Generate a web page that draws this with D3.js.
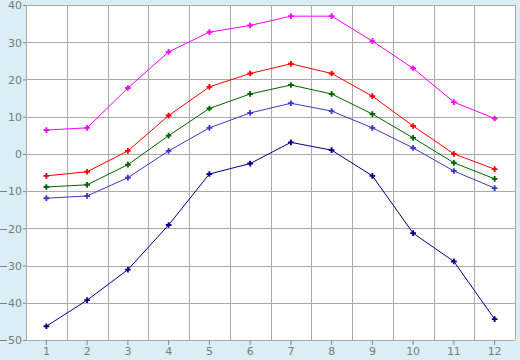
<!DOCTYPE html>
<html>
<head>
<meta charset="utf-8">
<script src="https://cdn.jsdelivr.net/npm/d3@7"></script>
<style>
  html, body { margin: 0; padding: 0; background: #d9eef5; }
  svg text { font-family: "DejaVu Sans", sans-serif; font-size: 11px; fill: #7a7a7a; }
</style>
</head>
<body>
<div id="chart"></div>
<script>
var months = [1, 2, 3, 4, 5, 6, 7, 8, 9, 10, 11, 12];
var yTicks = [-50, -40, -30, -20, -10, 0, 10, 20, 30, 40];

var magentaVals  = [6.4, 7.0, 17.7, 27.4, 32.7, 34.5, 37.0, 37.0, 30.3, 23.0, 13.9, 9.5];
var redVals      = [-5.9, -4.8, 0.8, 10.3, 18.0, 21.6, 24.2, 21.6, 15.5, 7.5, 0.0, -4.1];
var greenVals    = [-8.9, -8.3, -2.9, 4.9, 12.2, 16.1, 18.5, 16.1, 10.7, 4.3, -2.4, -6.7];
var blueVals     = [-11.9, -11.3, -6.4, 0.8, 7.0, 11.0, 13.6, 11.5, 7.0, 1.6, -4.6, -9.2];
var navyVals     = [-46.3, -39.3, -31.1, -19.1, -5.4, -2.6, 3.1, 1.0, -5.9, -21.3, -28.9, -44.4];

var series = [
  { values: magentaVals, color: "#ff00ff" },
  { values: redVals, color: "#ff0000" },
  { values: greenVals, color: "#006400" },
  { values: blueVals, color: "#3a3acc" },
  { values: navyVals, color: "#00008b" }
];

var width = 520, height = 360;
var margin = { left: 26, top: 5, right: 5, bottom: 20 };

var svg = d3.select("#chart").append("svg")
  .attr("width", width)
  .attr("height", height);

var x = d3.scaleBand().domain(months).range([margin.left, width - margin.right]);
var y = d3.scaleLinear().domain([-50, 40]).range([height - margin.bottom, margin.top]);

// plot background
svg.append("rect")
  .attr("x", margin.left).attr("y", margin.top)
  .attr("width", width - margin.left - margin.right)
  .attr("height", height - margin.top - margin.bottom)
  .attr("fill", "#fff");

// grid lines
var grid = svg.append("g").attr("stroke", "#aaa").attr("stroke-width", 1).attr("shape-rendering", "crispEdges");
grid.selectAll(".h").data(yTicks).enter().append("line")
  .attr("x1", margin.left).attr("x2", width - margin.right)
  .attr("y1", function(d) { return Math.round(y(d)) + 0.5; })
  .attr("y2", function(d) { return Math.round(y(d)) + 0.5; });
var bounds = months.map(function(m) { return x(m); }).concat([width - margin.right]);
grid.selectAll(".v").data(bounds).enter().append("line")
  .attr("x1", function(d) { return Math.round(d) + 0.5; })
  .attr("x2", function(d) { return Math.round(d) + 0.5; })
  .attr("y1", margin.top).attr("y2", height - margin.bottom);

// axes
var xAxis = d3.axisBottom(x).tickSize(5).tickPadding(2);
var xg = svg.append("g")
  .attr("transform", "translate(0," + (height - margin.bottom) + ")")
  .call(xAxis);
xg.select(".domain").remove();
xg.selectAll("line").attr("stroke", "#888");

var yAxis = d3.axisLeft(y).tickValues(yTicks).tickSize(3).tickPadding(1)
  .tickFormat(function(d) { return d < 0 ? "\u2212" + Math.abs(d) : d; });
var yg = svg.append("g")
  .attr("transform", "translate(" + margin.left + ",0)")
  .call(yAxis);
yg.select(".domain").remove();
yg.selectAll("line").attr("stroke", "#888");
yg.selectAll("text").attr("dy", "0.35em");

// lines and markers
var line = d3.line()
  .x(function(d, i) { return x(months[i]) + x.bandwidth() / 2; })
  .y(function(d) { return y(d); });

var marker = d3.symbol().type(d3.symbolCross).size(18);

series.forEach(function(s) {
  svg.append("path")
    .datum(s.values)
    .attr("d", line)
    .attr("fill", "none")
    .attr("stroke", s.color)
    .attr("stroke-width", 1);

  svg.append("g").selectAll("path").data(s.values).enter().append("path")
    .attr("d", marker)
    .attr("transform", function(d, i) {
      return "translate(" + (x(months[i]) + x.bandwidth() / 2) + "," + y(d) + ")";
    })
    .attr("fill", s.color);
});
</script>
</body>
</html>
